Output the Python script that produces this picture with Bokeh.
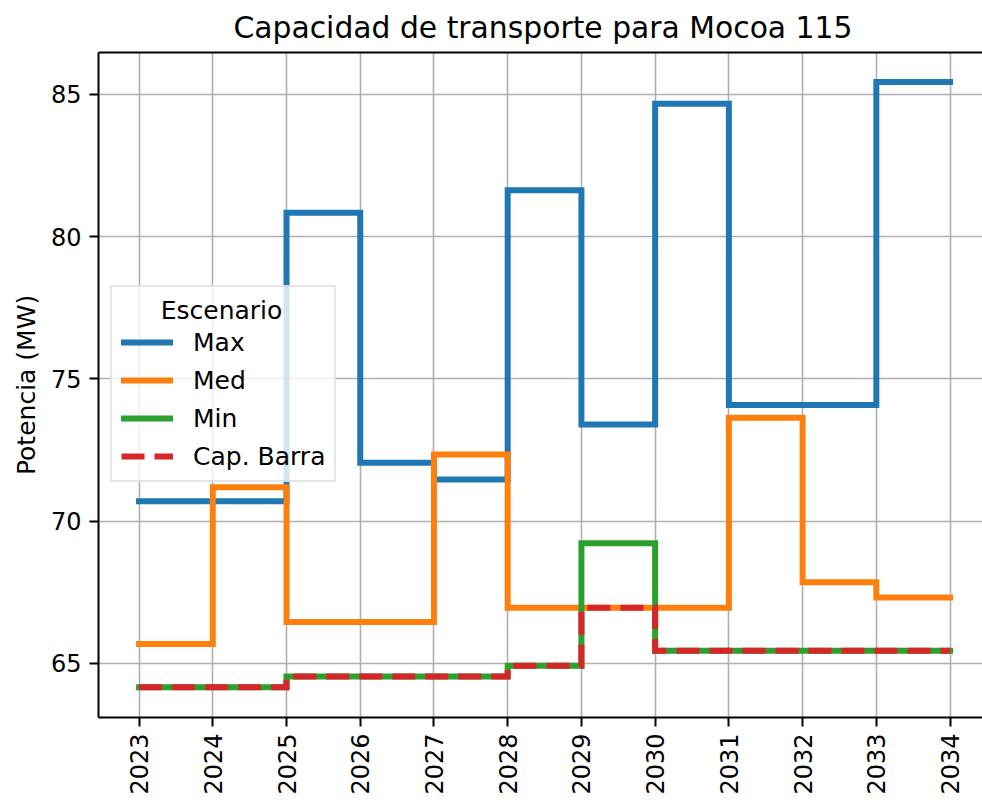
import math
from bokeh.plotting import figure
from bokeh.models import FixedTicker, Range1d, LinearAxis, Legend, LegendItem
from bokeh.embed import file_html
from bokeh.resources import INLINE

years = [2023, 2024, 2025, 2026, 2027, 2028, 2029, 2030, 2031, 2032, 2033, 2034]
max_vals = [70.70, 70.70, 80.84, 72.05, 71.46, 81.63, 73.40, 84.67, 74.08, 74.08, 85.43, 85.43]
med_vals = [65.68, 71.19, 66.46, 66.46, 72.34, 66.96, 66.96, 66.96, 73.63, 67.85, 67.32, 67.32]
min_vals = [64.16, 64.16, 64.54, 64.54, 64.54, 64.92, 69.22, 65.45, 65.45, 65.45, 65.45, 65.45]
cap_barra = [64.16, 64.16, 64.54, 64.54, 64.54, 64.92, 66.96, 65.45, 65.45, 65.45, 65.45, 65.45]
y_ticks = [65, 70, 75, 80, 85]

FONT = "DejaVu Sans"

p = figure(
    frame_width=884, frame_height=665,
    x_range=Range1d(2022.45, 2034.44), y_range=Range1d(63.1, 86.47),
    output_backend="svg", toolbar_location=None,
    min_border_left=98, min_border_right=0, min_border_top=10, min_border_bottom=4,
    title="Capacidad de transporte para Mocoa 115",
)
p.title.text_font = FONT
p.title.text_font_size = "29.8px"
p.title.text_font_style = "normal"
p.title.text_color = "#000000"
p.title.align = "left"
p.title.offset = 135
p.title.standoff = 15

p.outline_line_color = None
p.background_fill_color = "white"
p.border_fill_color = "white"

for ax in (p.xaxis[0], p.yaxis[0]):
    ax.axis_line_width = 2
    ax.axis_line_color = "black"
    ax.major_tick_line_width = 2
    ax.major_tick_line_color = "black"
    ax.major_tick_out = 9
    ax.major_tick_in = 0
    ax.minor_tick_line_color = None
    ax.major_label_text_font = FONT
    ax.major_label_text_font_size = "24px"
    ax.major_label_text_color = "#000000"
    ax.major_label_standoff = 8

p.xaxis.ticker = FixedTicker(ticks=years)
p.xaxis.major_label_orientation = math.pi / 2
p.xaxis.major_label_standoff = 7
p.yaxis.ticker = FixedTicker(ticks=y_ticks)

p.yaxis.axis_label = "Potencia (MW)"
p.yaxis.axis_label_text_font = FONT
p.yaxis.axis_label_text_font_size = "25px"
p.yaxis.axis_label_text_font_style = "normal"
p.yaxis.axis_label_text_color = "#000000"
p.yaxis.axis_label_standoff = 7

top = LinearAxis(ticker=FixedTicker(ticks=[]), major_label_text_font_size="0px",
                 major_tick_out=0, major_tick_in=0, minor_tick_out=0, minor_tick_in=0,
                 axis_line_width=2, axis_line_color="black")
p.add_layout(top, "above")

p.xgrid.ticker = FixedTicker(ticks=years)
p.ygrid.ticker = FixedTicker(ticks=y_ticks)
p.grid.grid_line_color = "#b0b0b0"
p.grid.grid_line_width = 1.6

LW = 6
r_max = p.step(years, max_vals, mode="after", line_color="#1f77b4", line_width=LW, line_join="miter", line_cap="square")
r_med = p.step(years, med_vals, mode="after", line_color="#ff7f0e", line_width=LW, line_join="miter", line_cap="square")
r_min = p.step(years, min_vals, mode="after", line_color="#2ca02c", line_width=LW, line_join="miter", line_cap="square")
r_cap = p.step(years, cap_barra, mode="after", line_color="#d62728", line_width=LW, line_dash="23 10", line_join="miter")

legend = Legend(
    items=[LegendItem(label="Max", renderers=[r_max]),
           LegendItem(label="Med", renderers=[r_med]),
           LegendItem(label="Min", renderers=[r_min]),
           LegendItem(label="Cap. Barra", renderers=[r_cap])],
    location=(12, 235),
    title="\u00a0\u00a0\u00a0\u00a0\u00a0Escenario",
)
legend.title_text_font = FONT
legend.title_text_font_size = "25px"
legend.title_text_font_style = "normal"
legend.title_text_color = "#000000"
legend.title_standoff = 2
legend.label_text_font = FONT
legend.label_text_font_size = "25px"
legend.label_text_color = "#000000"
legend.glyph_width = 52
legend.glyph_height = 30
legend.label_height = 30
legend.label_standoff = 20
legend.spacing = 8
legend.padding = 9
legend.margin = 0
legend.border_line_color = "#cccccc"
legend.border_line_width = 2
legend.background_fill_alpha = 0.8
p.add_layout(legend)

open("out.html", "w").write(file_html(p, INLINE))
